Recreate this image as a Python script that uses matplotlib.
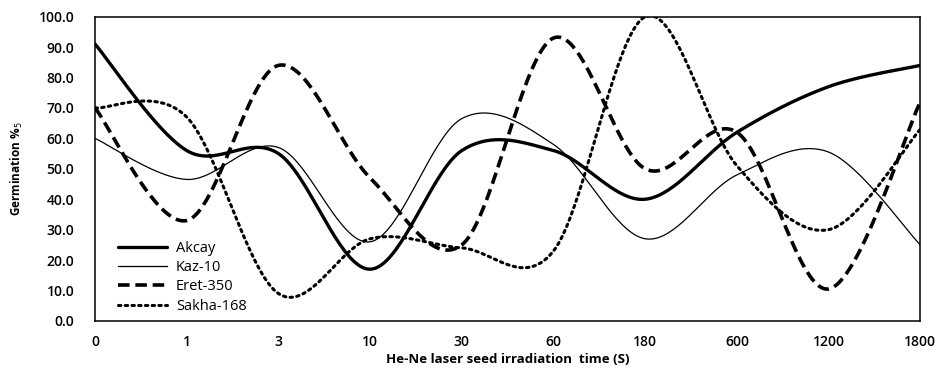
import numpy as np
import matplotlib.pyplot as plt

# irradiation times (categories) and germination values
times = ['0', '1', '3', '10', '30', '60', '180', '600', '1200', '1800']
akcay = [91, 56, 55, 17, 56, 56, 40, 62, 77, 84]
kaz10 = [60, 46.5, 57, 26, 66.5, 58, 27, 48, 55.5, 25]
eret350 = [70, 33, 84, 47, 25, 93, 50, 62, 10.5, 72]
sakha168 = [70, 67, 9, 27, 24, 23, 100, 51, 30, 63]


def smooth(y, n=40):
    # Excel-style smoothed line: cubic bezier with catmull-rom control points
    y = np.asarray(y, dtype=float)
    x = np.arange(len(y), dtype=float)
    p = np.column_stack([x, y])
    pp = np.vstack([p[0], p, p[-1]])
    t = np.linspace(0, 1, n)[:, None]
    out = []
    for i in range(len(p) - 1):
        p0, p1, p2, p3 = pp[i], pp[i + 1], pp[i + 2], pp[i + 3]
        c1 = p1 + (p2 - p0) / 6
        c2 = p2 - (p3 - p1) / 6
        seg = ((1 - t) ** 3) * p1 + 3 * ((1 - t) ** 2) * t * c1 + 3 * (1 - t) * t ** 2 * c2 + t ** 3 * p2
        out.append(seg if i == 0 else seg[1:])
    out = np.vstack(out)
    return out[:, 0], out[:, 1]


plt.rcParams['font.family'] = ['Open Sans', 'DejaVu Sans']

fig = plt.figure(figsize=(9.41, 3.71), dpi=100)
ax = fig.add_axes([0.101, 0.135, 0.877, 0.82])

x, y = smooth(akcay)
ax.plot(x, y, color='black', lw=2.4, label='Akcay', solid_capstyle='round')
x, y = smooth(kaz10)
ax.plot(x, y, color='black', lw=0.9, label='Kaz-10')
x, y = smooth(eret350)
ax.plot(x, y, color='black', lw=2.6, linestyle=(0, (3.2, 1.6)), label='Eret-350')
x, y = smooth(sakha168)
ax.plot(x, y, color='black', lw=2.2, linestyle=(0, (0.8, 1.4)), dash_capstyle='round', label='Sakha-168')

ax.set_xlim(0, len(times) - 1)
ax.set_ylim(0, 100)
ax.set_xticks(range(len(times)))
ax.set_xticklabels(times)
ax.set_yticks(np.arange(0, 101, 10))
ax.set_yticklabels([f'{v:.1f}' for v in np.arange(0, 101, 10)])
ax.tick_params(length=0, labelsize=10)
ax.tick_params(axis='x', pad=10)
ax.tick_params(axis='y', pad=15)
for lab in ax.get_xticklabels() + ax.get_yticklabels():
    lab.set_fontweight('semibold')
for s in ax.spines.values():
    s.set_linewidth(1.1)
    s.set_color('black')

ax.set_xlabel('He-Ne laser seed irradiation  time (S)', fontsize=9.5, fontweight='bold', labelpad=3)
ax.set_ylabel('Germination %$_5$', fontsize=8.5, fontweight='bold', labelpad=10)

ax.legend(loc='lower left', bbox_to_anchor=(0.015, -0.01), frameon=False, fontsize=10.5,
          handlelength=3.4, handletextpad=0.6, labelspacing=0.3, borderaxespad=0.3)

plt.savefig('out.png', dpi=100)
